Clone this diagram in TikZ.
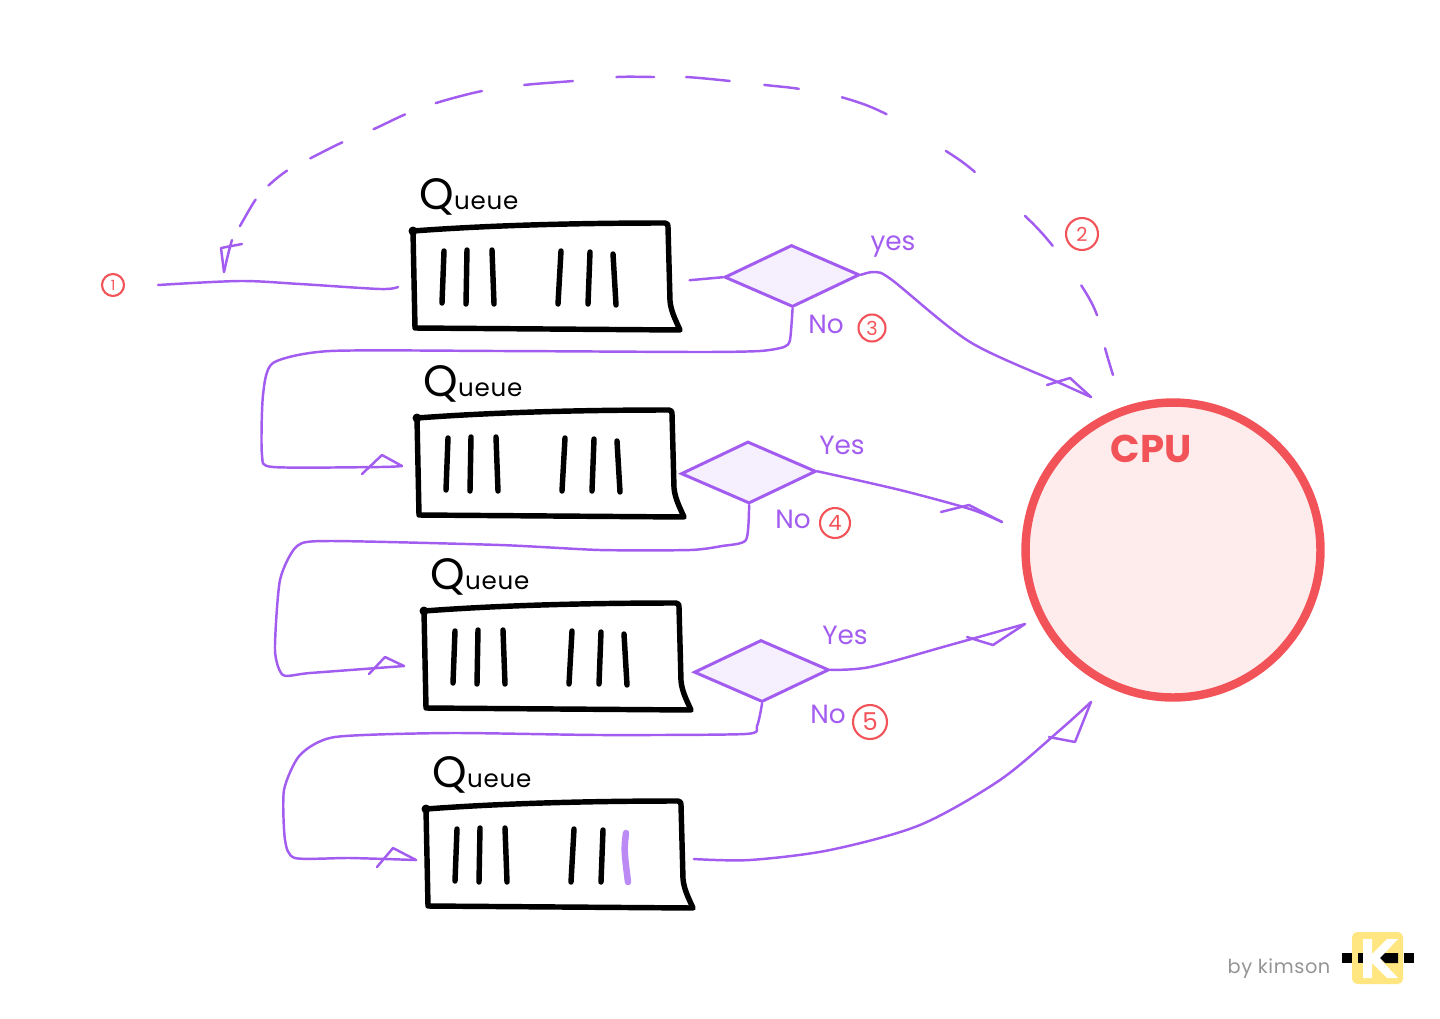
\documentclass[tikz,border=0pt]{standalone}
\usepackage{fontspec}
\setmainfont{Poppins}
\usetikzlibrary{shapes.geometric}
\definecolor{flowc}{HTML}{A25CF0}
\definecolor{redc}{HTML}{F25358}
\definecolor{logoc}{HTML}{FFE680}
\tikzset{
  flow/.style={draw=flowc, line width=1.4pt, line cap=round, line join=round},
  boxline/.style={draw=black, line width=3.1pt, line cap=round, line join=round},
  tick/.style={line width=3.1pt, line cap=round},
  decision/.style={shape=diamond, draw=flowc, fill=flowc!10, line width=1.7pt, inner sep=0pt, minimum width=2.7cm, minimum height=1.24cm, rotate=1},
  queuenode/.style={minimum width=5.34cm, minimum height=1.96cm, inner sep=0pt},
  queuelabel/.style={text=black},
  answer/.style={text=flowc, font=\fontsize{15}{15}\selectfont, inner sep=0pt},
  number/.style={shape=circle, draw=redc, text=redc, line width=1.2pt, inner sep=0pt}
}
\newcommand{\queueword}{{\fontsize{25}{25}\selectfont Q}{\fontsize{14}{14}\selectfont\addfontfeature{LetterSpace=3}ueue}}
\begin{document}
\begin{tikzpicture}[x=0.02cm, y=-0.02cm]
    \useasboundingbox (0,0) rectangle (1440,1018);

    % Draw the four queues
    \foreach \i/\x/\y in {1/413/231, 2/417/418, 3/424/611, 4/426/809} {
        \begin{scope}[shift={(\x,\y)}]
            \draw[boxline] (0,0) .. controls (80,-6) and (170,-8) .. (252,-8) .. controls (255,-8) and (255,-6) .. (255,-4) -- (257,70) .. controls (258,80) and (262,88) .. (267,99) -- (2,97) -- cycle;
            \fill (0,0) circle (4.5);
            \foreach \a/\b/\c/\d in {31/20/29/72, 54/19/53/73, 79/19/81/73, 148/20/145/73, 177/21/175/73} {
                \draw[tick] (\a,\b) -- (\c,\d);
            }
            \node[queuenode] (q\i) at (134,50) {};
            \node[queuelabel] (label\i) at (56,-34) {\queueword};
        \end{scope}
    }
    % Last item of the first three is black, of the fourth purple
    \draw[tick, black] (613,254) -- (616,305);
    \draw[tick, black] (617,441) -- (620,492);
    \draw[tick, black] (624,634) -- (627,685);
    \draw[tick, flowc!72, line width=3.7pt] (626,833) .. controls (624,850) .. (628,882);

    % Decisions and CPU
    \node[decision] (d1) at (792,276) {};
    \node[decision] (d2) at (748.5,472.5) {};
    \node[decision] (d3) at (761.5,671) {};
    \node[shape=circle, draw=redc, fill=redc!11, line width=4.8pt, minimum size=5.9cm] (cpu) at (1173,550) {};
    \node[text=redc, font=\fontsize{22}{22}\selectfont\bfseries] (cputext) at (1151,449) {CPU};

    % Ends of the connectors
    \coordinate (start) at (158,285);
    \coordinate (back) at (1113,375);
    \coordinate (backend) at (224,272);
    \coordinate (in1) at (398,287);
    \coordinate (in2) at (402,466);
    \coordinate (in3) at (404,666);
    \coordinate (in4) at (416,860);
    \coordinate (cpu1) at (1091,397);
    \coordinate (cpu2) at (1002,522);
    \coordinate (cpu3) at (1025,624);
    \coordinate (cpu4) at (1091,702);

    % Entry into the first queue
    \draw[flow] plot[smooth, tension=0.5] coordinates {(start) (240,281) (300,284) (380,289) (in1)};

    % Way back from the CPU, dashed
    \draw[flow, dash pattern=on 15.9pt off 19.3pt on 19.3pt off 27.8pt on 23.2pt off 38pt on 20.4pt off 39.7pt on 27.2pt off 25pt on 19.8pt off 19.8pt on 24.9pt off 18.2pt on 21.5pt off 24.9pt on 27.8pt off 24.3pt on 27.2pt off 18.6pt on 19.8pt off 19.3pt on 20.4pt off 15pt on 13.6pt off 10.8pt on 17.6pt off 9.1pt on 18.7pt off 100pt]
        plot[smooth, tension=0.6] coordinates {(back) (1105,348) (1097,315) (1081,285) (1052,245) (1024,215) (975,172) (946,151) (886,114) (841,97) (800,89) (765,85) (730,81) (686,77) (655,77) (617,77) (573,81) (524,85) (482,91) (436,103) (406,114) (374,129) (343,142) (311,158) (288,170) (269,185) (256,199) (240,226) (232,240) (backend)};
    \draw[flow] (backend) -- (221,248) -- (242,244);

    % Queue to decision
    \draw[flow, shorten <=5pt] (q1.east) -- (d1.west);

    % Yes branches
    \draw[flow] plot[smooth, tension=0.5] coordinates {(d1.east) (875,272) (892,280) (970,342) (1062,384) (cpu1)};
    \draw[flow] (cpu1) -- (1070,378) -- (1047,385);
    \draw[flow] plot[smooth, tension=0.5] coordinates {(d2.east) (900,490) (970,509) (cpu2)};
    \draw[flow] (cpu2) -- (969,505) -- (941,512);
    \draw[flow] plot[smooth, tension=0.5] coordinates {(d3.east) (870,667) (950,645) (cpu3)};
    \draw[flow] (cpu3) -- (993,645) -- (983,642) -- (967,637);
    \draw[flow] plot[smooth, tension=0.5] coordinates {(q4.east) (750,860) (830,850) (920,825) (1000,780) (1060,730) (cpu4)};
    \draw[flow] (cpu4) -- (1075,742) -- (1049,737);

    % No branches
    \draw[flow] plot[smooth, tension=0.4] coordinates {(d1.south) (790,340) (784,347) (760,351) (700,352) (500,351) (330,351) (273,363) (263,395) (262,455) (273,467) (380,467) (in2)};
    \draw[flow] (in2) -- (382,455) -- (362,474);
    \draw[flow] plot[smooth, tension=0.4] coordinates {(d2.south) (746,540) (722,546) (690,550) (600,550) (500,545) (330,541) (297,546) (280,580) (275,650) (283,675) (310,673) (in3)};
    \draw[flow] (in3) -- (385,657) -- (369,674);
    \draw[flow] plot[smooth, tension=0.4] coordinates {(d3.south) (757,726) (745,734) (600,735) (450,733) (335,737) (300,755) (284,790) (285,840) (295,858) (350,858) (in4)};
    \draw[flow] (in4) -- (393,848) -- (377,867);

    % Labels of the branches
    \node[answer] (yes1) at (893,247) {yes};
    \node[answer] (no1) at (826,324) {No};
    \node[answer] (yes2) at (842,445) {Yes};
    \node[answer] (no2) at (793,519) {No};
    \node[answer] (yes3) at (845,635) {Yes};
    \node[answer] (no3) at (828,714) {No};

    % Numbers in red
    \node[number, minimum size=0.44cm, font=\fontsize{8}{8}\selectfont] (n1) at (113,285) {1};
    \node[number, minimum size=0.64cm, font=\fontsize{11}{11}\selectfont] (n2) at (1082,234) {2};
    \node[number, minimum size=0.54cm, font=\fontsize{11}{11}\selectfont] (n3) at (872,328) {3};
    \node[number, minimum size=0.6cm, font=\fontsize{12}{12}\selectfont] (n4) at (835,523) {4};
    \node[number, minimum size=0.68cm, font=\fontsize{14}{14}\selectfont] (n5) at (870,722) {5};

    % Signature and logo
    \node[text=black!42, font=\fontsize{11}{11}\selectfont\addfontfeature{LetterSpace=3}] (sign) at (1279,969) {by kimson};
    \fill[logoc, rounded corners=3pt] (1352,932) rectangle (1403,984);
    \fill[white] (1363,939) -- (1372,939) -- (1372,954) -- (1387,939) -- (1398,939) -- (1382,956) -- (1382,961) -- (1398,978) -- (1387,978) -- (1372,963) -- (1372,978) -- (1363,978) -- cycle;
    \fill (1342,953) rectangle (1352,963);
    \fill (1358,953) rectangle (1363,963);
    \fill (1380,958) -- (1385,953) -- (1398,953) -- (1398,963) -- (1385,963) -- cycle;
    \fill (1404,953) rectangle (1414,963);
\end{tikzpicture}
\end{document}
